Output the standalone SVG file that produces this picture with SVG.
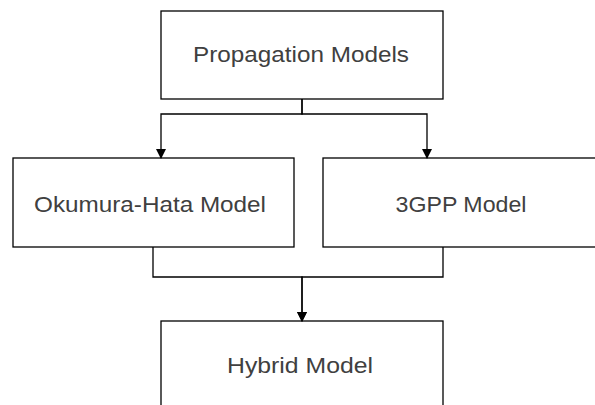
<svg xmlns="http://www.w3.org/2000/svg" width="595" height="405" viewBox="0 0 595 405">
  <defs>
    <marker id="arrow" markerWidth="10" markerHeight="10" refX="9" refY="5" orient="auto" markerUnits="userSpaceOnUse">
      <path d="M0,0 L10,5 L0,10 Z" fill="#000"/>
    </marker>
    <style>
      .box { fill: #fff; stroke: #000; stroke-width: 1.3; }
      .label { font-family: "Liberation Sans", Arial, sans-serif; font-size: 22px; fill: #404040; text-anchor: middle; }
      .edge { fill: none; stroke: #000; stroke-width: 1.3; marker-end: url(#arrow); }
    </style>
  </defs>
  <rect width="595" height="405" fill="#fff"/>

  <g id="propagation-models">
    <rect class="box" x="161" y="11" width="282" height="88"/>
    <text class="label" x="301" y="62" textLength="216" lengthAdjust="spacingAndGlyphs">Propagation Models</text>
  </g>

  <g id="okumura-hata-model">
    <rect class="box" x="13" y="158" width="281" height="89"/>
    <text class="label" x="150" y="212" textLength="232" lengthAdjust="spacingAndGlyphs">Okumura-Hata Model</text>
  </g>

  <g id="3gpp-model">
    <rect class="box" x="323" y="158" width="290" height="89"/>
    <text class="label" x="461" y="212" textLength="131" lengthAdjust="spacingAndGlyphs">3GPP Model</text>
  </g>

  <g id="hybrid-model">
    <rect class="box" x="161" y="321" width="282" height="100"/>
    <text class="label" x="300" y="373" textLength="146" lengthAdjust="spacingAndGlyphs">Hybrid Model</text>
  </g>

  <g id="connectors">
    <path class="edge" d="M302,99 V114 H161 V158"/>
    <path class="edge" d="M302,99 V114 H427 V158"/>
    <path class="edge" d="M153,247 V277 H302 V321"/>
    <path class="edge" d="M443,247 V277 H302 V321"/>
  </g>
</svg>
